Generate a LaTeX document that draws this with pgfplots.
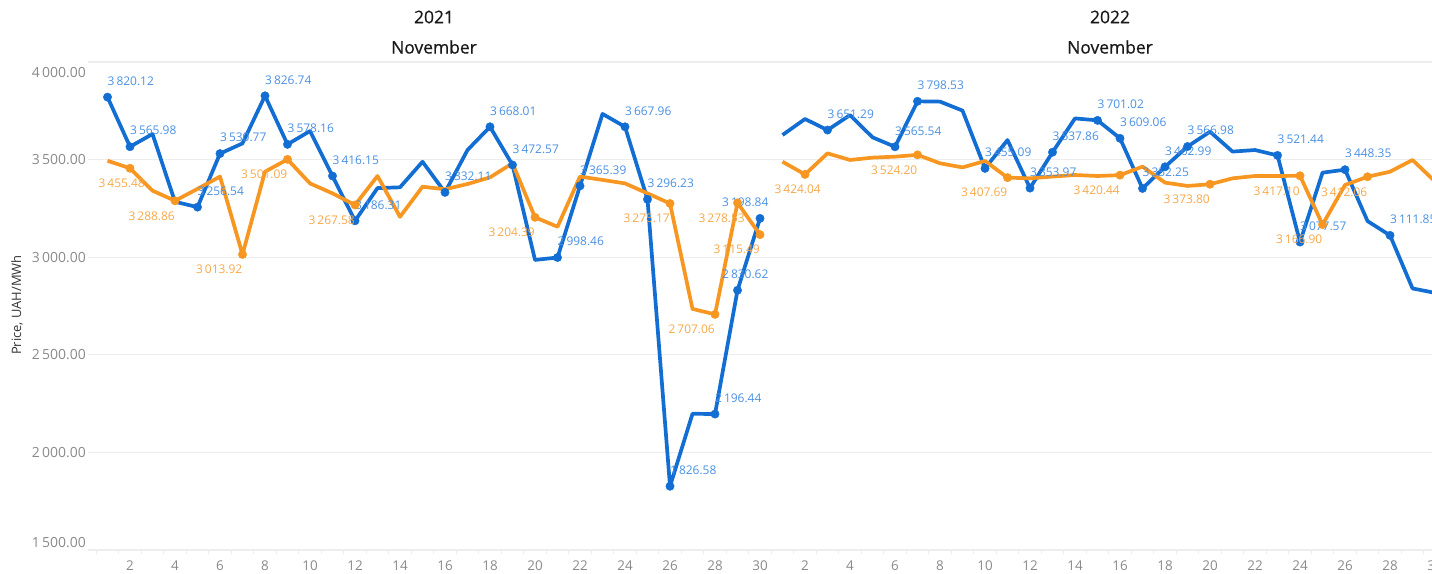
\documentclass[border=0pt]{standalone}
\usepackage{fontspec}
\setmainfont{Open Sans}
\newfontfamily\titlefont{Open Sans}[FakeBold=0.6]
\usepackage{pgfplots}
\usepackage{pgfplotstable}
\pgfplotsset{compat=1.18}
\definecolor{bl}{HTML}{126ED2}
\definecolor{or}{HTML}{F79620}
\definecolor{bllab}{HTML}{4A90E2}
\definecolor{orlab}{HTML}{F6A84A}
\definecolor{gridc}{HTML}{EDEDED}
\definecolor{tickc}{HTML}{8A8A8A}
\definecolor{titc}{HTML}{1A1A1A}

\pgfplotstableread{
x y lab dx
1 3820.12 3\,820.12 0
2 3565.98 3\,565.98 0
5 3256.54 3\,256.54 0
6 3530.77 3\,530.77 0
8 3826.74 3\,826.74 0
9 3578.16 3\,578.16 0
11 3416.15 3\,416.15 0
12 3186.31 3\,186.31 0
16 3332.11 3\,332.11 0
18 3668.01 3\,668.01 0
19 3472.57 3\,472.57 0
21 2998.46 2\,998.46 0
22 3365.39 3\,365.39 0
24 3667.96 3\,667.96 0
25 3296.23 3\,296.23 0
26 1826.58 1\,826.58 0
28 2196.44 2\,196.44 0
29 2830.62 2\,830.62 -15.5
30 3198.84 3\,198.84 -38
}\bAm
\pgfplotstableread{
x y lab dx
2 3455.48 3\,455.48 15
4 3288.86 3\,288.86 0
7 3013.92 3\,013.92 0
9 3501.09 3\,501.09 0
12 3267.58 3\,267.58 0
20 3204.39 3\,204.39 0
26 3275.17 3\,275.17 0
28 2707.06 2\,707.06 0
29 3278.53 3\,278.53 7.5
30 3115.49 3\,115.49 0
}\oAm
\pgfplotstableread{
x y lab dx
33 3651.29 3\,651.29 0
36 3565.54 3\,565.54 0
37 3798.53 3\,798.53 0
40 3455.09 3\,455.09 0
42 3353.97 3\,353.97 0
43 3537.86 3\,537.86 0
45 3701.02 3\,701.02 0
46 3609.06 3\,609.06 0
47 3352.25 3\,352.25 0
48 3462.99 3\,462.99 0
49 3566.98 3\,566.98 0
53 3521.44 3\,521.44 0
54 3077.57 3\,077.57 0
56 3448.35 3\,448.35 0
58 3111.85 3\,111.85 0
60 2817.30 2\,817.30 -37
}\bBm
\pgfplotstableread{
x y lab dx
32 3424.04 3\,424.04 16
37 3524.20 3\,524.20 0
41 3407.69 3\,407.69 0
46 3420.44 3\,420.44 0
50 3373.80 3\,373.80 0
54 3417.10 3\,417.10 0
55 3166.90 3\,166.90 0
57 3412.06 3\,412.06 0
60 3388.07 3\,388.07 0
}\oBm

\pgfplotsset{
  blmarks/.style={only marks, mark=*, mark size=4.2bp, color=bl,
    nodes near coords, point meta=explicit symbolic,
    visualization depends on={\thisrow{dx}\as\dx},
    every node near coord/.append style={anchor=west, yshift=16bp, xshift=\dx bp,
      inner sep=0pt, font=\fontsize{12}{12}\selectfont, text=bllab}},
  ormarks/.style={only marks, mark=*, mark size=4.2bp, color=or,
    nodes near coords, point meta=explicit symbolic,
    visualization depends on={\thisrow{dx}\as\dx},
    every node near coord/.append style={anchor=east, yshift=-15bp, xshift=\dx bp,
      inner sep=0pt, font=\fontsize{12}{12}\selectfont, text=orlab}},
  blline/.style={color=bl, line width=3.7bp, line join=round, mark=none},
  orline/.style={color=or, line width=3.7bp, line join=round, mark=none},
}

\begin{document}
\begin{tikzpicture}
\begin{axis}[
  at={(88bp,24bp)}, anchor=south west,
  scale only axis, width=1344bp, height=488bp,
  xmin=0.1333, xmax=59.8667, ymin=1500, ymax=4000,
  axis line style={draw=none},
  ytick={1500,2000,...,4000},
  yticklabels={,2\,000.00,2\,500.00,3\,000.00,3\,500.00,},
  ymajorgrids, grid style={draw=gridc, line width=1.3bp},
  xtick={2,4,...,58},
  xticklabels={2,4,6,8,10,12,14,16,18,20,22,24,26,28,30,2,4,6,8,10,12,14,16,18,20,22,24,26,28},
  minor xtick={0.5,1.5,...,59.5},
  xtick pos=bottom, ytick pos=left,
  tick align=outside,
  major tick length=0pt, minor tick length=4bp,
  minor x tick style={draw=gridc, line width=1.2bp},
  tick label style={text=tickc},
  yticklabel style={anchor=east, inner sep=0pt, xshift=-2bp, font=\fontsize{14}{14}\selectfont},
  xticklabel style={anchor=center, inner sep=0pt, yshift=-16bp, font=\fontsize{13.5}{13.5}\selectfont},
  /pgf/number format/assume math mode=true,
]
% 2021
\addplot[blmarks] table[x=x,y=y,meta=lab] {\bAm};
\addplot[blline] coordinates {(1,3820.12)(2,3565.98)(3,3631)(4,3284)(5,3256.54)(6,3530.77)(7,3583)(8,3826.74)(9,3578.16)(10,3646)(11,3416.15)(12,3186.31)(13,3354)(14,3358)(15,3489)(16,3332.11)(17,3549)(18,3668.01)(19,3472.57)(20,2986)(21,2998.46)(22,3365.39)(23,3734)(24,3667.96)(25,3296.23)(26,1826.58)(27,2198)(28,2196.44)(29,2830.62)(30,3198.84)};
\addplot[ormarks] table[x=x,y=y,meta=lab] {\oAm};
\addplot[orline] coordinates {(1,3494)(2,3455.48)(3,3341)(4,3288.86)(5,3350)(6,3413)(7,3013.92)(8,3438)(9,3501.09)(10,3378)(11,3327)(12,3267.58)(13,3416)(14,3207)(15,3361)(16,3348)(17,3375)(18,3409)(19,3481)(20,3204.39)(21,3156)(22,3413)(23,3396)(24,3378)(25,3327)(26,3275.17)(27,2735)(28,2707.06)(29,3278.53)(30,3115.49)};
% 2022
\addplot[blmarks] table[x=x,y=y,meta=lab] {\bBm};
\addplot[blline] coordinates {(31,3626)(32,3708)(33,3651.29)(34,3728)(35,3614)(36,3565.54)(37,3798.53)(38,3797)(39,3751)(40,3455.09)(41,3600)(42,3353.97)(43,3537.86)(44,3711)(45,3701.02)(46,3609.06)(47,3352.25)(48,3462.99)(49,3566.98)(50,3643)(51,3541)(52,3549)(53,3521.44)(54,3077.57)(55,3433)(56,3448.35)(57,3185)(58,3111.85)(59,2840)(60,2817.30)};
\addplot[ormarks] table[x=x,y=y,meta=lab] {\oBm};
\addplot[orline] coordinates {(31,3489)(32,3424.04)(33,3532)(34,3498)(35,3510)(36,3515)(37,3524.20)(38,3481)(39,3460)(40,3493)(41,3407.69)(42,3404)(43,3413)(44,3421)(45,3416)(46,3420.44)(47,3464)(48,3382)(49,3365)(50,3373.80)(51,3404)(52,3416)(53,3416)(54,3417.10)(55,3166.90)(56,3370)(57,3412.06)(58,3438)(59,3498)(60,3388.07)};
\end{axis}
% extra y tick labels (shifted inward as in reference)
\node[anchor=east, inner sep=0pt, text=tickc, font=\fontsize{14}{14}\selectfont] at (86bp,501bp) {4\,000.00};
\node[anchor=east, inner sep=0pt, text=tickc, font=\fontsize{14}{14}\selectfont] at (86bp,31bp) {1\,500.00};
\node[anchor=center, inner sep=0pt, text=tickc, font=\fontsize{13.5}{13.5}\selectfont] at (1435bp,8bp) {30};
% panel titles
\node[text=titc, font=\titlefont\fontsize{17.5}{17.5}\selectfont] at (434bp,557bp) {2021};
\node[text=titc, font=\titlefont\fontsize{17.5}{17.5}\selectfont] at (434bp,527bp) {November};
\node[text=titc, font=\titlefont\fontsize{17.5}{17.5}\selectfont] at (1110bp,557bp) {2022};
\node[text=titc, font=\titlefont\fontsize{17.5}{17.5}\selectfont] at (1110bp,527bp) {November};
% y axis title
\node[rotate=90, text=black!80, font=\fontsize{13}{13}\selectfont] at (17bp,269bp) {Price, UAH/MWh};
\pgfresetboundingbox
\path[use as bounding box] (0,0) rectangle (1432bp,574bp);
\end{tikzpicture}
\end{document}
